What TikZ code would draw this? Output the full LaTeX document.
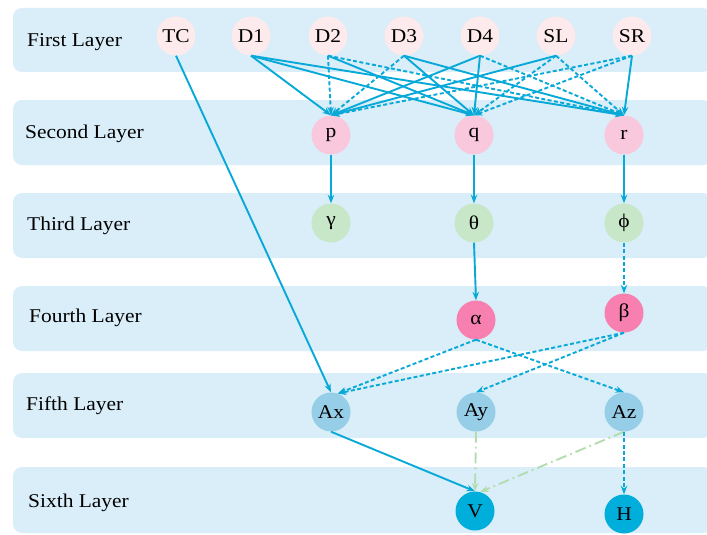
\documentclass[tikz,border=0pt]{standalone}
\usepackage{fontspec}
\setmainfont{Liberation Serif}[FakeStretch=1.1]
\usetikzlibrary{arrows.meta}
\definecolor{bandc}{HTML}{D9EEF8}
\definecolor{topc}{HTML}{FCEAEC}
\definecolor{secc}{HTML}{F9C8DC}
\definecolor{thirdc}{HTML}{C7E7C8}
\definecolor{fourc}{HTML}{F780B0}
\definecolor{fifthc}{HTML}{96CEE8}
\definecolor{sixc}{HTML}{00AEDB}
\definecolor{edgec}{HTML}{08A9D8}
\definecolor{greenc}{HTML}{B3DDB0}
\begin{document}
\begin{tikzpicture}[x=1pt,y=-1pt,
  band/.style={fill=bandc,draw=none,rounded corners=9pt},
  layerlabel/.style={anchor=west,font=\fontsize{19.5}{23}\selectfont,inner sep=0pt},
  vnode/.style={circle,minimum size=39pt,inner sep=0pt,draw=none,font=\fontsize{19.5}{23}\selectfont},
  sol/.style={draw=edgec,line width=1.9pt,-{Stealth[length=8.5pt,width=6.5pt]}},
  dsh/.style={sol,dash pattern=on 4pt off 2.4pt},
  gdd/.style={draw=greenc,line width=1.9pt,dash pattern=on 11pt off 4pt on 1.8pt off 4pt,-{Stealth[length=8.5pt,width=6.5pt]}}
]
\useasboundingbox (0,0) rectangle (707,535);
% bands
\path[band] (13,8) rectangle (712,72);
\path[band] (13,100) rectangle (712,165);
\path[band] (13,193) rectangle (712,258);
\path[band] (13,286) rectangle (712,351);
\path[band] (13,373) rectangle (712,438);
\path[band] (13,467) rectangle (712,533);
% labels
\node[layerlabel] (l1) at (27,42) {First Layer};
\node[layerlabel] (l2) at (25,134) {Second Layer};
\node[layerlabel] (l3) at (27,226) {Third Layer};
\node[layerlabel] (l4) at (29,318) {Fourth Layer};
\node[layerlabel] (l5) at (26,406) {Fifth Layer};
\node[layerlabel] (l6) at (28,503) {Sixth Layer};
% nodes
\node[vnode,fill=topc] (TC) at (176,36) {TC};
\node[vnode,fill=topc] (D1) at (251,36) {D1};
\node[vnode,fill=topc] (D2) at (328,36) {D2};
\node[vnode,fill=topc] (D3) at (404,36) {D3};
\node[vnode,fill=topc] (D4) at (480,36) {D4};
\node[vnode,fill=topc] (SL) at (556,36) {SL};
\node[vnode,fill=topc] (SR) at (632,36) {SR};
\node[vnode,fill=secc] (p) at (331,135) {p};
\node[vnode,fill=secc] (q) at (474,135) {q};
\node[vnode,fill=secc] (r) at (624,135) {r};
\node[vnode,fill=thirdc] (g) at (331,223) {γ};
\node[vnode,fill=thirdc] (th) at (474,223) {θ};
\node[vnode,fill=thirdc] (ph) at (624,223) {ϕ};
\node[vnode,fill=fourc] (al) at (476,320) {α};
\node[vnode,fill=fourc] (be) at (624,313) {β};
\node[vnode,fill=fifthc] (Ax) at (331,412) {Ax};
\node[vnode,fill=fifthc] (Ay) at (476,412) {Ay};
\node[vnode,fill=fifthc] (Az) at (624,412) {Az};
\node[vnode,fill=sixc] (V) at (475,511) {V};
\node[vnode,fill=sixc] (H) at (624,514) {H};
% first -> second
\draw[sol] (D1.south) -- (p.north);
\draw[sol] (D1.south) -- (q.north);
\draw[sol] (D1.south) -- (r.north);
\draw[dsh] (D2.south) -- (p.north);
\draw[sol] (D2.south) -- (q.north);
\draw[dsh] (D2.south) -- (r.north);
\draw[dsh] (D3.south) -- (p.north);
\draw[sol] (D3.south) -- (q.north);
\draw[sol] (D3.south) -- (r.north);
\draw[sol] (D4.south) -- (p.north);
\draw[sol] (D4.south) -- (q.north);
\draw[dsh] (D4.south) -- (r.north);
\draw[sol] (SL.south) -- (p.north);
\draw[dsh] (SL.south) -- (q.north);
\draw[dsh] (SL.south) -- (r.north);
\draw[dsh] (SR.south) -- (p.north);
\draw[dsh] (SR.south) -- (q.north);
\draw[sol] (SR.south) -- (r.north);
% second -> third
\draw[sol] (p.south) -- (g.north);
\draw[sol] (q.south) -- (th.north);
\draw[sol] (r.south) -- (ph.north);
% third -> fourth
\draw[sol] (th.south) -- (al.north);
\draw[dsh] (ph.south) -- (be.north);
% to fifth
\draw[sol] (TC.south) -- (Ax.north);
\draw[dsh] (al.south) -- (Ax.70);
\draw[dsh] (be.south) -- (Ax.70);
\draw[dsh] (be.south) -- (Ay.north);
\draw[dsh] (al.south) -- (Az.north);
% to sixth
\draw[sol] (Ax.south) -- (V.north);
\draw[gdd] (Ay.south) -- (V.north);
\draw[gdd] (Az.south) -- (V.75);
\draw[dsh] (Az.south) -- (H.north);
\end{tikzpicture}
\end{document}
